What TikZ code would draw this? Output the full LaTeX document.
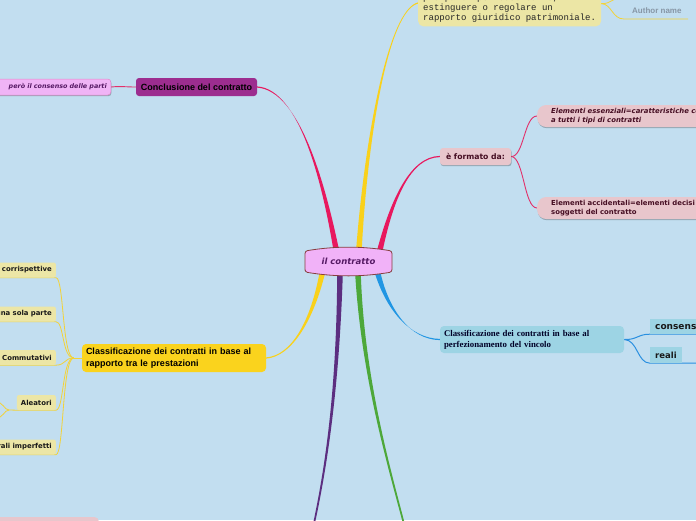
\documentclass[tikz,border=0pt]{standalone}
\usepackage{fontspec}
\setmainfont{Liberation Sans}
\newfontfamily\dvs{DejaVu Sans}
\newfontfamily\lser{Liberation Serif}
\newfontfamily\lmon{Liberation Mono}
\usetikzlibrary{calc,shadows}
\pgfdeclarelayer{back}
\pgfdeclarelayer{links}
\pgfsetlayers{back,links,main}
\definecolor{bgc}{RGB}{194,222,240}
\definecolor{pinkbr}{RGB}{232,24,94}
\definecolor{yelbr}{RGB}{249,209,27}
\definecolor{bluebr}{RGB}{33,150,227}
\definecolor{greenbr}{RGB}{77,168,58}
\definecolor{purplebr}{RGB}{92,46,128}
\definecolor{cfill}{RGB}{241,178,248}
\definecolor{cborder}{RGB}{135,62,62}
\definecolor{ctext}{RGB}{85,25,100}
\definecolor{topfill}{RGB}{236,230,165}
\definecolor{conclfill}{RGB}{156,45,143}
\definecolor{pinkfill}{RGB}{240,180,246}
\definecolor{rosefill}{RGB}{232,198,204}
\definecolor{rosetext}{RGB}{70,14,35}
\definecolor{bluefill}{RGB}{157,212,228}
\definecolor{yelfill}{RGB}{250,211,29}
\definecolor{lightyel}{RGB}{236,230,166}
\definecolor{authorc}{RGB}{135,150,165}
\definecolor{thinpink}{RGB}{226,48,106}
\definecolor{thinyel}{RGB}{243,210,55}
\definecolor{thinblue}{RGB}{42,143,224}
\newcommand{\branch}[7]{%
  \fill[#1] ($(#2)+(#6)$) .. controls ($(#3)+0.5*(#6)$) and ($(#4)+(#7)$) .. ($(#5)+(#7)$)
   -- ($(#5)-(#7)$) .. controls ($(#4)-(#7)$) and ($(#3)-0.5*(#6)$) .. ($(#2)-(#6)$) -- cycle;}
\tikzset{
  softshadow/.style={drop shadow={shadow xshift=0.6pt, shadow yshift=-1.2pt, opacity=0.25, fill=black}},
  ychild/.style={anchor=east, fill=lightyel, rounded corners=2pt, minimum height=15pt,
    inner xsep=4pt, inner ysep=0pt, align=right, font=\dvs\bfseries\fontsize{6.9}{8}\selectfont, text=black!90},
  rosebox/.style={anchor=west, fill=rosefill, rounded corners=9pt, text width=175pt, align=left,
    minimum height=22pt, inner xsep=14pt, inner ysep=2pt, text=rosetext, softshadow},
  ylink/.style={thinyel, line width=0.8pt},
  plink/.style={thinpink, line width=0.9pt},
  blink/.style={thinblue, line width=1pt},
}
\begin{document}
\begin{tikzpicture}[x=1pt,y=-1pt]
\useasboundingbox (0,0) rectangle (696,520);
\begin{pgfonlayer}{back}
\fill[bgc] (0,0) rectangle (696,520);
\end{pgfonlayer}
\clip (0,0) rectangle (696,520);

% central shape
\filldraw[fill=cfill, draw=cborder, line width=0.8pt, rounded corners=2.5pt]
  (305,272) -- (305,251) .. controls (335,246) and (362,246) .. (392,251)
  -- (392,272) .. controls (362,277) and (335,277) .. (305,272) -- cycle;
\node[minimum width=87pt, minimum height=27pt, inner sep=0pt,
  font=\dvs\bfseries\itshape\fontsize{8.5}{10}\selectfont, text=ctext] (c) at (348.5,261.5) {il contratto};

% top node
\node[anchor=south west, fill=topfill, rounded corners=5pt, inner xsep=5pt, inner ysep=3.5pt,
  align=left, font=\lmon\fontsize{9}{10}\selectfont, text=black!85] (t) at (418,26.5)
  {più parti per costituire,\\estinguere o regolare un\\rapporto giuridico patrimoniale.};
\node[anchor=west, inner sep=0pt, font=\bfseries\fontsize{8}{9}\selectfont, text=authorc] (au) at (632,11) {Author name};
\coordinate (tr) at ($(t.east)+(0,-5)$);
\coordinate (ul1) at (624,19);
\coordinate (ul2) at (688,19);
\coordinate (offtop) at (626,-6);

% conclusione
\node[fill=conclfill, rounded corners=3pt, minimum width=121pt, minimum height=18pt, inner sep=0pt,
  font=\bfseries\fontsize{9}{10}\selectfont] (k) at (196.5,87) {Conclusione del contratto};
\node[anchor=east, fill=pinkfill, draw=pinkfill!75!purple, line width=0.5pt, rounded corners=3pt,
  text width=120pt, align=right, minimum height=16pt, inner xsep=4pt, inner ysep=0pt, softshadow,
  font=\dvs\bfseries\itshape\fontsize{6.4}{7}\selectfont, text=ctext] (p) at (111,87) {però il consenso delle parti};

% formato da
\node[fill=rosefill, rounded corners=3pt, minimum width=71pt, minimum height=17pt, inner sep=0pt, softshadow,
  font=\dvs\bfseries\fontsize{7.7}{9}\selectfont, text=rosetext] (f) at (475.5,156.5) {è formato da:};
\node[rosebox, font=\dvs\bfseries\itshape\fontsize{6.9}{8.8}\selectfont] (e1) at (537,116)
  {Elementi essenziali=caratteristiche comuni\\a tutti i tipi di contratti};
\node[rosebox, font=\dvs\bfseries\fontsize{6.9}{8.8}\selectfont] (e2) at (537,208)
  {Elementi accidentali=elementi decisi dai\\soggetti del contratto};

% blue
\node[fill=bluefill, rounded corners=4pt, minimum height=27pt, text width=176pt, align=left,
  inner xsep=4pt, inner ysep=0pt, font=\lser\bfseries\fontsize{8.8}{11}\selectfont, text=black!85!blue] (b) at (532,339.5)
  {Classificazione dei contratti in base al\\perfezionamento del vincolo};
\node[anchor=west, fill=bluefill, minimum height=15pt, text width=62pt, align=left, inner xsep=5pt, inner ysep=0pt,
  font=\dvs\bfseries\fontsize{9}{10}\selectfont, text=black!90] (c1) at (650,326.5) {consensuali};
\node[anchor=west, fill=bluefill, minimum height=16pt, inner xsep=5pt, inner ysep=0pt,
  font=\dvs\bfseries\fontsize{8.5}{10}\selectfont, text=black!90] (c2) at (650,355) {reali};
\coordinate (c2end) at ($(c2.south west)+(70,0)$);

% yellow
\node[fill=yelfill, rounded corners=4pt, minimum height=28pt, text width=176pt, align=left,
  inner xsep=4pt, inner ysep=0pt, font=\bfseries\fontsize{9}{12}\selectfont] (y) at (174,358)
  {Classificazione dei contratti in base al\\rapporto tra le prestazioni};
\node[ychild, text width=80pt] (y1) at (56,270) {corrispettive};
\node[ychild, text width=80pt] (y2) at (56,314) {una sola parte};
\node[ychild, text width=80pt] (y3) at (56,357.5) {Commutativi};
\node[ychild] (y4) at (56,402.5) {Aleatori};
\node[ychild, text width=80pt] (y5) at (56,447) {Bilaterali imperfetti};
\coordinate (yf) at ($(y.west)+(-8,0)$);
\coordinate (as) at (9,410);
\coordinate (al1) at (-6,401);
\coordinate (al2) at (-6,419);

% bottom-left pink (cut)
\node[anchor=north east, fill=rosefill, rounded corners=4pt, minimum width=120pt, minimum height=20pt, inner sep=0pt] (bl) at (99,517) {};

\coordinate (gend) at (405,528);
\coordinate (pend) at (313,528);

\begin{pgfonlayer}{links}
\clip (0,0) rectangle (696,520);
% thick branches
\branch{pinkbr}{$(c.north)+(-12.5,1)$}{324,185}{300,90}{k.east}{2.8,0}{0,0.6}
\branch{yelbr}{$(c.north)+(10.5,1)$}{366,140}{388,10}{$(t.south west)+(0,-23.5)$}{2.8,0}{0,0.6}
\branch{pinkbr}{$(c.north)+(31.5,2)$}{392,200}{410,157}{f.west}{2.8,0}{0,0.6}
\branch{bluebr}{$(c.south)+(29.5,-1)$}{388,310}{410,339}{b.west}{2.8,0}{0,0.6}
\branch{greenbr}{$(c.south)+(9.5,-1)$}{363,380}{390,470}{gend}{2.8,0}{0.9,0}
\branch{purplebr}{$(c.south)+(-8.5,-1)$}{338,380}{328,460}{pend}{2.8,0}{0.9,0}
\branch{yelbr}{$(c.south)+(-26.5,-1)$}{312,320}{292,356}{y.east}{2.8,0}{0,0.6}
% thin links
\draw[ylink] (tr) .. controls (612,4) and (612,19) .. (ul1) -- (ul2);
\draw[ylink] (tr) .. controls (612,4) and (614,-3) .. (offtop);
\draw[plink] (k.west) .. controls (125,87) and (121,86) .. (p.east);
\draw[plink] (f.east) .. controls (524,157) and (524,116) .. (e1.west);
\draw[plink] (f.east) .. controls (524,157) and (524,208) .. (e2.west);
\draw[blink] (b.east) .. controls (637,340) and (638,334) .. (c1.south west) -- ($(c1.south west)+(70,0)$);
\draw[blink] (b.east) .. controls (638,340) and (637,363) .. (c2.south west) -- (c2end);
\draw[ylink] (y.west) -- (yf);
\draw[ylink] (yf) .. controls (62,358) and (64,277.5) .. (y1.south east) -- (y1.south west);
\draw[ylink] (yf) .. controls (62,358) and (64,321.5) .. (y2.south east) -- (y2.south west);
\draw[ylink] (yf) .. controls (64,358) and (66,365) .. (y3.south east) -- (y3.south west);
\draw[ylink] (yf) .. controls (62,358) and (64,410) .. (y4.south east) -- (y4.south west) -- (as);
\draw[ylink] (yf) .. controls (62,358) and (64,454.5) .. (y5.south east) -- (y5.south west);
\draw[ylink] (as) .. controls (4,410) and (4,402) .. (al1);
\draw[ylink] (as) .. controls (4,410) and (4,418) .. (al2);
\end{pgfonlayer}
\end{tikzpicture}
\end{document}
